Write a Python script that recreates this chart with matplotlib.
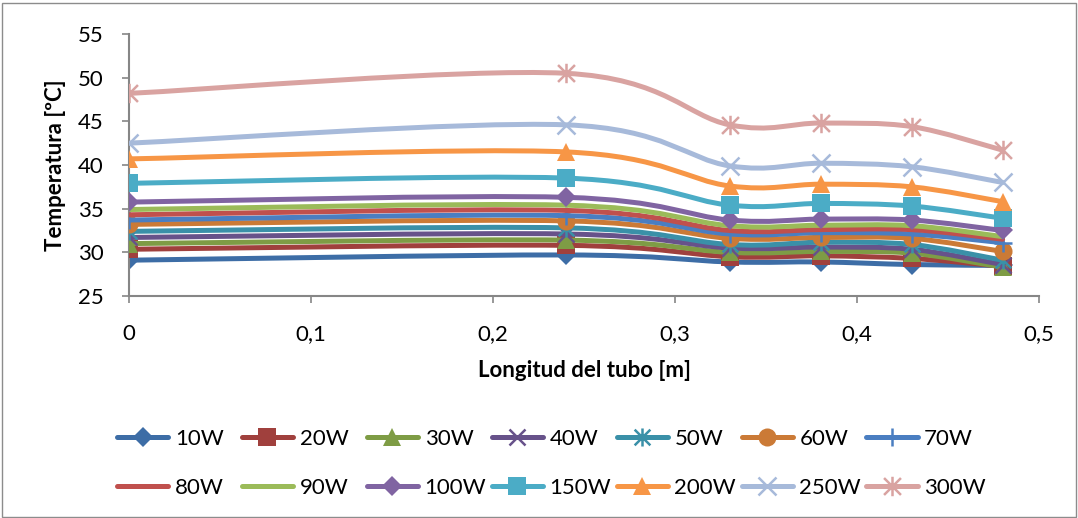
import numpy as np
import matplotlib
matplotlib.use("Agg")
import matplotlib.pyplot as plt
from matplotlib.path import Path
from matplotlib.patches import PathPatch, Rectangle
from matplotlib.lines import Line2D

plt.rcParams['font.family'] = ['Lato', 'DejaVu Sans']

# Position along the tube [m]
longitud = [0, 0.24, 0.33, 0.38, 0.43, 0.48]

series_labels = ["10W", "20W", "30W", "40W", "50W", "60W", "70W",
                 "80W", "90W", "100W", "150W", "200W", "250W", "300W"]

t_10W = [29.1, 29.7, 28.9, 28.9, 28.6, 28.5]
t_20W = [30.35, 30.8, 29.5, 29.6, 29.3, 28.4]
t_30W = [31.0, 31.4, 30.0, 30.1, 29.9, 28.3]
t_40W = [31.7, 32.1, 30.5, 30.6, 30.35, 28.6]
t_50W = [32.4, 32.8, 30.9, 31.15, 30.9, 29.1]
t_60W = [33.2, 33.6, 31.6, 31.7, 31.6, 30.1]
t_70W = [33.7, 34.2, 32.1, 32.25, 32.1, 31.1]
t_80W = [34.3, 34.8, 32.5, 32.6, 32.6, 31.5]
t_90W = [34.9, 35.4, 33.05, 33.1, 33.05, 31.8]
t_100W = [35.75, 36.3, 33.7, 33.8, 33.7, 32.5]
t_150W = [37.9, 38.5, 35.4, 35.6, 35.3, 33.9]
t_200W = [40.7, 41.5, 37.6, 37.8, 37.5, 35.8]
t_250W = [42.5, 44.6, 39.9, 40.2, 39.8, 38.0]
t_300W = [48.2, 50.5, 44.6, 44.8, 44.4, 41.7]

temperaturas = [t_10W, t_20W, t_30W, t_40W, t_50W, t_60W, t_70W,
                t_80W, t_90W, t_100W, t_150W, t_200W, t_250W, t_300W]

y_ticks = [25, 30, 35, 40, 45, 50, 55]
x_ticks = [0, 0.1, 0.2, 0.3, 0.4, 0.5]
x_tick_labels = ["0", "0,1", "0,2", "0,3", "0,4", "0,5"]

colors = ["#3D6DA6", "#A0403D", "#7E9C45", "#67528A", "#3A90A8", "#CB7A36",
          "#4A7EC1", "#C0504D", "#9BBB59", "#8064A2", "#4BACC6", "#F79646",
          "#A7BADA", "#D9A3A1"]

# asterisk: an "x" crossed by a vertical stroke
asterisk = Path([(-1, -1), (1, 1), (-1, 1), (1, -1), (0, -1.15), (0, 1.15)],
                [Path.MOVETO, Path.LINETO, Path.MOVETO, Path.LINETO,
                 Path.MOVETO, Path.LINETO])

markers = ['D', 's', '^', 'x', asterisk, 'o', '+',
           None, None, 'D', 's', '^', 'x', asterisk]
msizes = [10.5, 12.5, 13, 12, 13, 13, 13, 0, 0, 10.5, 12.5, 13, 13, 14]


def smooth_path(xs, ys):
    """Cubic Bezier path through the points (Catmull-Rom style tangents)."""
    pts = np.column_stack([xs, ys]).astype(float)
    n = len(pts)
    verts = [pts[0]]
    codes = [Path.MOVETO]
    for i in range(n - 1):
        p0 = pts[i - 1] if i > 0 else pts[i]
        p1 = pts[i]
        p2 = pts[i + 1]
        p3 = pts[i + 2] if i + 2 < n else pts[i + 1]
        c1 = p1 + (p2 - p0) / 6.0
        c2 = p2 - (p3 - p1) / 6.0
        verts += [c1, c2, p2]
        codes += [Path.CURVE4] * 3
    return Path(verts, codes)


W, H = 1078, 518
fig = plt.figure(figsize=(W / 100, H / 100), dpi=100)
ax = fig.add_axes([129 / W, 1 - 296 / H, (1039 - 129) / W, (296 - 34) / H])

handles = []
for k, (lab, vals) in enumerate(zip(series_labels, temperaturas)):
    col = colors[k]
    z = 2 + k
    patch = PathPatch(smooth_path(longitud, vals), facecolor='none',
                      edgecolor=col, lw=3.6, capstyle='round',
                      joinstyle='round', zorder=z)
    ax.add_patch(patch)
    m = markers[k]
    line_marker = m in ('x', '+') or isinstance(m, Path)
    if m is not None:
        ax.plot(longitud, vals, linestyle='none', marker=m, ms=msizes[k],
                color=col, mec=col, mfc=col,
                mew=1.8 if line_marker else 0, zorder=z + 0.5)
    handles.append(Line2D([], [], color=col, lw=3.6, solid_capstyle='round',
                          marker=m if m is not None else None,
                          ms=msizes[k], mec=col, mfc=col,
                          mew=1.8 if line_marker else 0))

ax.set_xlim(0, 0.5)
ax.set_ylim(25, 55)
ax.set_xticks(x_ticks)
ax.set_xticklabels(x_tick_labels)
ax.set_yticks(y_ticks)

for s in ['top', 'right']:
    ax.spines[s].set_visible(False)
for s in ['left', 'bottom']:
    ax.spines[s].set_color('#868686')
    ax.spines[s].set_linewidth(1.5)

ax.tick_params(axis='both', direction='out', color='#868686', width=1.2,
               length=5, labelsize=16, labelcolor='black')
ax.tick_params(axis='y', pad=13)
ax.tick_params(axis='x', pad=15)

ax.set_ylabel("Temperatura [ºC]", fontsize=16, fontweight='bold', labelpad=9)
ax.set_xlabel("Longitud del tubo [m]", fontsize=16, fontweight='bold', labelpad=12)

# Legend: seven columns of two entries, evenly spaced
col_x = [117 + 124.9 * j for j in range(7)]
for j in range(7):
    hs = [handles[j], handles[j + 7]]
    ls = [series_labels[j], series_labels[j + 7]]
    fig.legend(hs, ls, loc='upper left',
               bbox_to_anchor=(col_x[j] / W, 1 - 429 / H),
               bbox_transform=fig.transFigure,
               frameon=False, fontsize=16, handlelength=2.3,
               handletextpad=0.3, labelspacing=1.3,
               borderpad=0, borderaxespad=0)

# Outer chart border
fig.patches.append(Rectangle((1.5 / W, 1.5 / H), (W - 4) / W, (H - 4) / H,
                             transform=fig.transFigure, fill=False,
                             edgecolor='#8C8C8C', lw=1.0))

fig.savefig("out.png", dpi=100)
